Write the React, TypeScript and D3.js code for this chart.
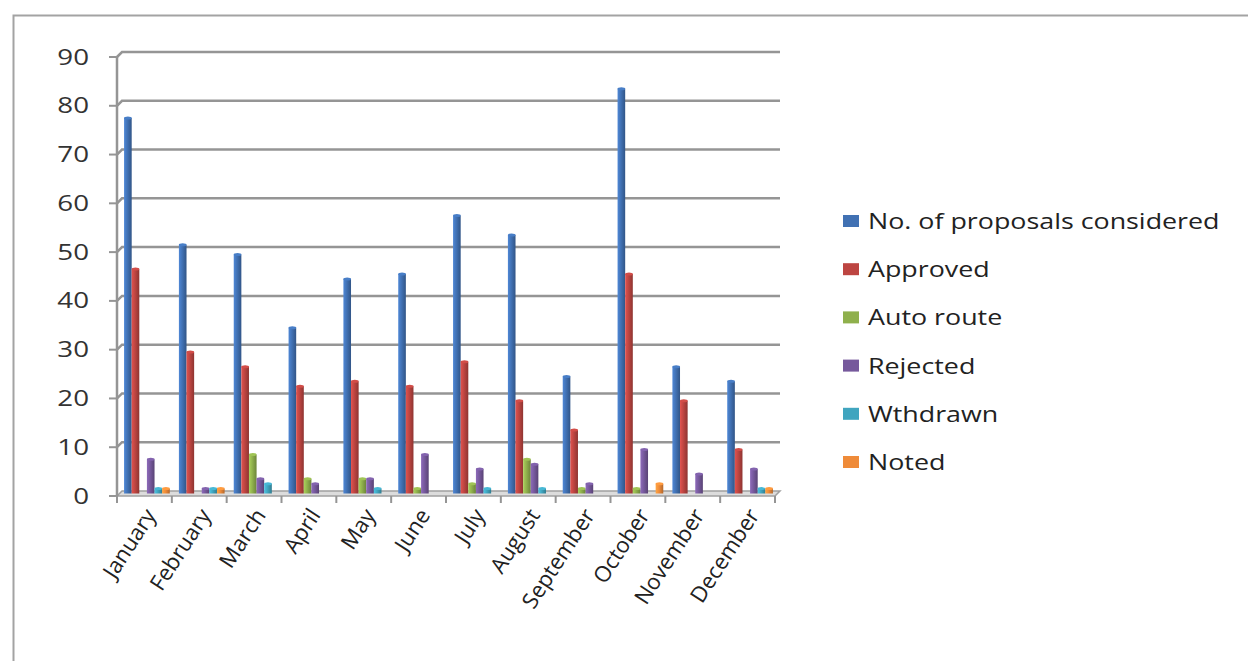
import React from 'react';
import * as d3 from 'd3';

const months = [
  'January', 'February', 'March', 'April', 'May', 'June',
  'July', 'August', 'September', 'October', 'November', 'December'
];

const seriesNames = ['No. of proposals considered', 'Approved', 'Auto route', 'Rejected', 'Wthdrawn', 'Noted'];
const seriesColors = ['#4171b3', '#bd4541', '#8fb04c', '#76599c', '#40a5bf', '#ef8b39'];

const considered = [77, 51, 49, 34, 44, 45, 57, 53, 24, 83, 26, 23];
const approved = [46, 29, 26, 22, 23, 22, 27, 19, 13, 45, 19, 9];
const autoRoute = [0, 0, 8, 3, 3, 1, 2, 7, 1, 1, 0, 0];
const rejected = [7, 1, 3, 2, 3, 8, 5, 6, 2, 9, 4, 5];
const withdrawn = [1, 1, 2, 0, 1, 0, 1, 1, 0, 0, 0, 1];
const noted = [1, 1, 0, 0, 0, 0, 0, 0, 0, 2, 0, 1];

const yTicks = [0, 10, 20, 30, 40, 50, 60, 70, 80, 90];

const allSeries = [considered, approved, autoRoute, rejected, withdrawn, noted];

// 3d depth offset of the back wall relative to the front edge
const DX = 5;
const DY = -5;

const App = () => {
  const W = 1248;
  const H = 661;

  // front plane
  const x = d3.scaleBand<string>().domain(months).range([117, 775]).padding(0);
  const y = d3.scaleLinear().domain([0, 90]).range([496, 57]);
  // bars sit half way in depth
  const xInner = d3.scaleBand<string>()
    .domain(seriesNames)
    .range([0, x.bandwidth()])
    .paddingOuter(0.6)
    .paddingInner(0);

  const font = '"Open Sans", "Liberation Sans", sans-serif';

  return (
    <svg width={W} height={H} style={{ position: 'absolute', left: 0, top: 0, background: '#fff' }}>
      <defs>
        {seriesColors.map((c, i) => (
          <linearGradient key={i} id={`grad${i}`} x1="0" x2="1" y1="0" y2="0">
            <stop offset="0" stopColor={d3.color(c)!.brighter(0.5).toString()} />
            <stop offset="0.45" stopColor={c} />
            <stop offset="1" stopColor={d3.color(c)!.darker(0.8).toString()} />
          </linearGradient>
        ))}
      </defs>

      <rect x={13.5} y={15.5} width={1300} height={700} fill="none" stroke="#a3a3a3" strokeWidth={2} />

      {/* back wall gridlines */}
      {yTicks.slice(1).map(t => (
        <g key={t}>
          <path d={`M117,${y(t)} L${117 + DX},${y(t) + DY} L${775 + DX},${y(t) + DY}`}
            fill="none" stroke="#959595" strokeWidth={2.5} />
          <line x1={109} x2={117} y1={y(t)} y2={y(t)} stroke="#959595" strokeWidth={2} />
        </g>
      ))}
      <line x1={109} x2={117} y1={y(0)} y2={y(0)} stroke="#959595" strokeWidth={2} />

      {/* floor */}
      <path d={`M117,${y(0)} L${117 + DX},${y(0) + DY} L${775 + DX},${y(0) + DY} L775,${y(0)} Z`}
        fill="#dcdcdc" stroke="#a0a0a0" strokeWidth={1.5} />
      <line x1={117} x2={117} y1={y(90)} y2={y(0)} stroke="#959595" strokeWidth={2.5} />

      {/* bars */}
      {allSeries.map((vals, si) => (
        <g key={si}>
          {vals.map((v, mi) => {
            if (v <= 0) return null;
            const bx = (x(months[mi]) ?? 0) + (xInner(seriesNames[si]) ?? 0) + DX / 2;
            const bw = xInner.bandwidth();
            const top = y(v) + DY / 2;
            const bottom = y(0) + DY / 2;
            return (
              <g key={mi}>
                <rect x={bx} y={top} width={bw} height={bottom - top} fill={`url(#grad${si})`} />
                <ellipse cx={bx + bw / 2} cy={top} rx={bw / 2} ry={1.5}
                  fill={d3.color(seriesColors[si])!.brighter(0.3).toString()} />
              </g>
            );
          })}
        </g>
      ))}

      {/* category ticks */}
      {months.concat(['end']).map((m, i) => {
        const tx = 117 + i * x.bandwidth();
        return <line key={m + i} x1={tx} x2={tx} y1={y(0)} y2={y(0) + 7} stroke="#959595" strokeWidth={2} />;
      })}

      {/* y labels */}
      {yTicks.map(t => (
        <g key={t} transform={`translate(89,${y(t)}) scale(1.32,1)`}>
          <text x={0} y={0} dy="0.36em" textAnchor="end" fontFamily={font} fontSize={21} fill="#333">{t}</text>
        </g>
      ))}

      {/* x labels */}
      {months.map(m => (
        <g key={m} transform={`translate(${(x(m) ?? 0) + x.bandwidth() / 2 + 6},${y(0) + 15}) rotate(-57)`}>
          <text x={0} y={0} dy="0.35em" textAnchor="end" fontFamily={font} fontSize={22} fill="#222">{m}</text>
        </g>
      ))}

      {/* legend */}
      {seriesNames.map((s, i) => {
        const ly = 221 + i * 48.2;
        return (
          <g key={s}>
            <rect x={843} y={ly - 6} width={16} height={12} fill={seriesColors[i]} />
            <g transform={`translate(868,${ly}) scale(1.22,1)`}>
              <text x={0} y={0} dy="0.36em" fontFamily={font} fontSize={22} fill="#222">{s}</text>
            </g>
          </g>
        );
      })}
    </svg>
  );
};

export default App;
